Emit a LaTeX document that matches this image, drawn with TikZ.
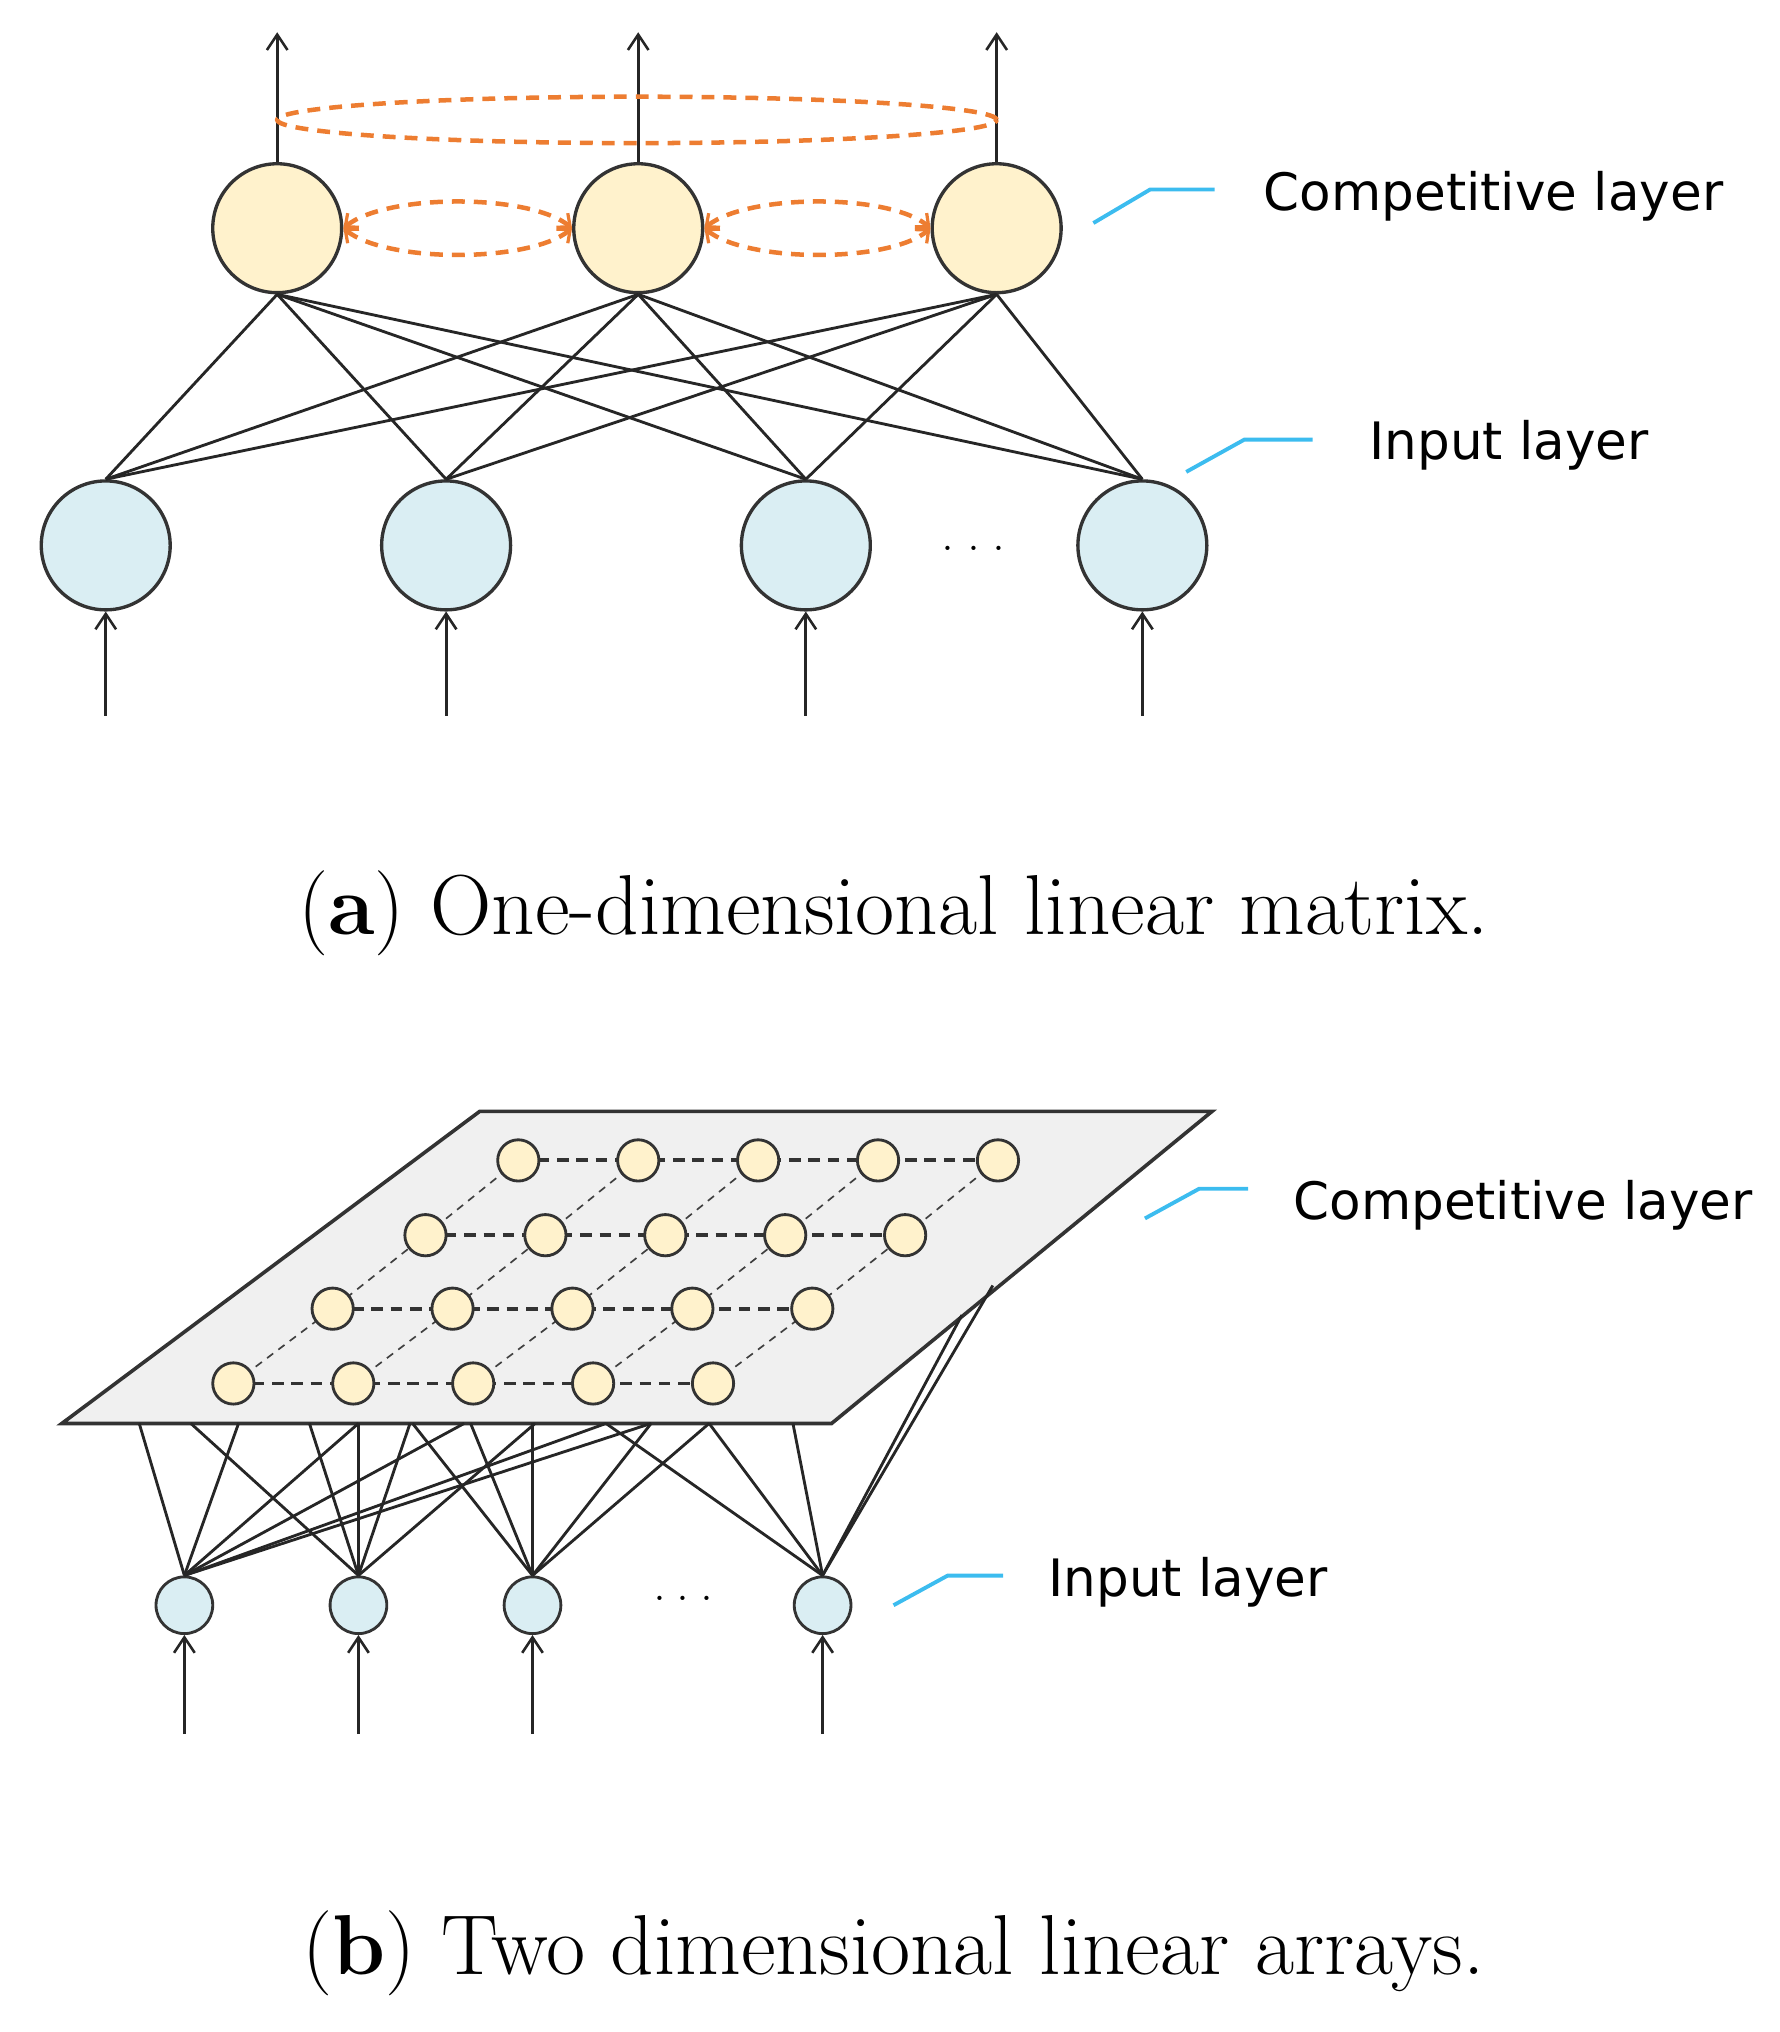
\documentclass[tikz,border=0pt]{standalone}
\usetikzlibrary{arrows.meta}
\usepackage{fontspec}
\newfontfamily\lab{DejaVu Sans}
\definecolor{cy}{HTML}{FFF2CC}
\definecolor{cb}{HTML}{DAEEF3}
\definecolor{orng}{HTML}{ED7D31}
\definecolor{lead}{HTML}{3CBCEF}
\begin{document}
\begin{tikzpicture}[x=1pt,y=-1pt,
  comp/.style={circle,draw=black!80,line width=2.6pt,fill=cy,minimum size=100pt,inner sep=0},
  inp/.style={circle,draw=black!80,line width=2.6pt,fill=cb,minimum size=100pt,inner sep=0},
  sc/.style={circle,draw=black!80,line width=2.2pt,fill=cy,minimum size=32pt,inner sep=0},
  si/.style={circle,draw=black!80,line width=2.2pt,fill=cb,minimum size=44pt,inner sep=0},
  wire/.style={line width=2.2pt,black!85},
  arr/.style={line width=2.4pt,black!85,-{Straight Barb[length=12pt,width=16pt,line width=2pt]}},
  od/.style={orng,line width=3.5pt,dash pattern=on 10pt off 7pt},
  odarr/.style={od,{Straight Barb[length=8pt,width=14pt,line width=2.5pt]}-{Straight Barb[length=8pt,width=14pt,line width=2.5pt]}},
  leader/.style={lead,line width=3pt},
  lbl/.style={font=\lab\fontsize{40}{44}\selectfont,anchor=west,inner sep=0},
  captxt/.style={font=\fontsize{66}{74}\selectfont,inner sep=0}]
\useasboundingbox (0,0) rectangle (1380,1576);
% ---------- (a)
\node[comp] (c1) at (215,177) {};
\node[comp] (c2) at (495,177) {};
\node[comp] (c3) at (773,177) {};
\node[inp] (i1) at (82,423) {};
\node[inp] (i2) at (346,423) {};
\node[inp] (i3) at (625,423) {};
\node[inp] (i4) at (886,423) {};
\foreach \c in {c1,c2,c3}{\foreach \i in {i1,i2,i3,i4}{\draw[wire] (\c.south) -- (\i.north);}}
\foreach \c/\x in {c1/215,c2/495,c3/773}{
  \coordinate (o\c) at (\x,25);
  \draw[arr] (\c.north) -- (o\c);}
\foreach \i/\x in {i1/82,i2/346,i3/625,i4/886}{
  \coordinate (s\i) at (\x,555);
  \draw[arr] (s\i) -- (\i.south);}
\draw[od] (494,93) ellipse (279pt and 18pt);
\draw[odarr] (c1.east) .. controls (300,150) and (410,150) .. (c2.west);
\draw[odarr] (c1.east) .. controls (300,204) and (410,204) .. (c2.west);
\draw[odarr] (c2.east) .. controls (580,150) and (690,150) .. (c3.west);
\draw[odarr] (c2.east) .. controls (580,204) and (690,204) .. (c3.west);
\node[font=\fontsize{40}{40}\selectfont] (dots1) at (755,425) {.\hspace{10pt}.\hspace{10pt}.};
\coordinate (la1) at (848,173); \coordinate (la2) at (892,147); \coordinate (la3) at (942,147);
\draw[leader] (la1) -- (la2) -- (la3);
\node[lbl] (tcomp) at (980,152) {Competitive layer};
\coordinate (lb1) at (920,366); \coordinate (lb2) at (965,341); \coordinate (lb3) at (1018,341);
\draw[leader] (lb1) -- (lb2) -- (lb3);
\node[lbl] (tinp) at (1062,345) {Input layer};
\node[captxt] (capa) at (693,708) {(\textbf{a}) One-dimensional linear matrix.};
% ---------- (b)
\coordinate (p1) at (372,862); \coordinate (p2) at (940,862);
\coordinate (p3) at (645,1104); \coordinate (p4) at (48,1104);
\draw[black!80,line width=2.8pt,fill=black!6] (p1) -- (p2) -- (p3) -- (p4) -- cycle;
\foreach \r/\y/\xs in {1/900/402,2/958/330,3/1015/258,4/1073/181}{
  \foreach \k in {1,...,5}{
    \pgfmathsetmacro\xx{\xs+93*(\k-1)}
    \coordinate (g\r\k) at (\xx,\y);}}
\foreach \k in {1,...,5}{
  \draw[black!75,line width=1.3pt,dash pattern=on 6pt off 5pt] (g1\k) -- (g2\k) -- (g3\k) -- (g4\k);}
\foreach \r in {1,...,4}{
  \draw[black!80,line width=3pt,dash pattern=on 9pt off 6pt] (g\r1) -- (g\r5);}
\foreach \r in {1,...,4}{\foreach \k in {1,...,5}{\node[sc] (n\r\k) at (g\r\k) {};}}
\node[si] (j1) at (143,1245) {};
\node[si] (j2) at (278,1245) {};
\node[si] (j3) at (413,1245) {};
\node[si] (j4) at (638,1245) {};
\foreach \j/\xs in {j1/{108,185,278,360,470,505},j2/{148,240,278,318,415},j3/{320,365,413,505,550},j4/{470,550,615}}{
  \foreach \x in \xs {\coordinate (e) at (\x,1104); \draw[wire] (\j.north) -- (e);}}
\coordinate (r1) at (770,997); \coordinate (r2) at (746,1020);
\draw[wire] (j4.north) -- (r1);
\draw[wire] (j4.north) -- (r2);
\foreach \j/\x in {j1/143,j2/278,j3/413,j4/638}{
  \coordinate (t\j) at (\x,1345);
  \draw[arr] (t\j) -- (\j.south);}
\node[font=\fontsize{40}{40}\selectfont] (dots2) at (530,1240) {.\hspace{8pt}.\hspace{8pt}.};
\coordinate (lc1) at (888,945); \coordinate (lc2) at (930,922); \coordinate (lc3) at (968,922);
\draw[leader] (lc1) -- (lc2) -- (lc3);
\node[lbl] (tcomp2) at (1003,935) {Competitive layer};
\coordinate (ld1) at (693,1245); \coordinate (ld2) at (735,1222); \coordinate (ld3) at (778,1222);
\draw[leader] (ld1) -- (ld2) -- (ld3);
\node[lbl] (tinp2) at (813,1227) {Input layer};
\node[captxt] (capb) at (693,1515) {(\textbf{b}) Two dimensional linear arrays.};
\end{tikzpicture}
\end{document}
